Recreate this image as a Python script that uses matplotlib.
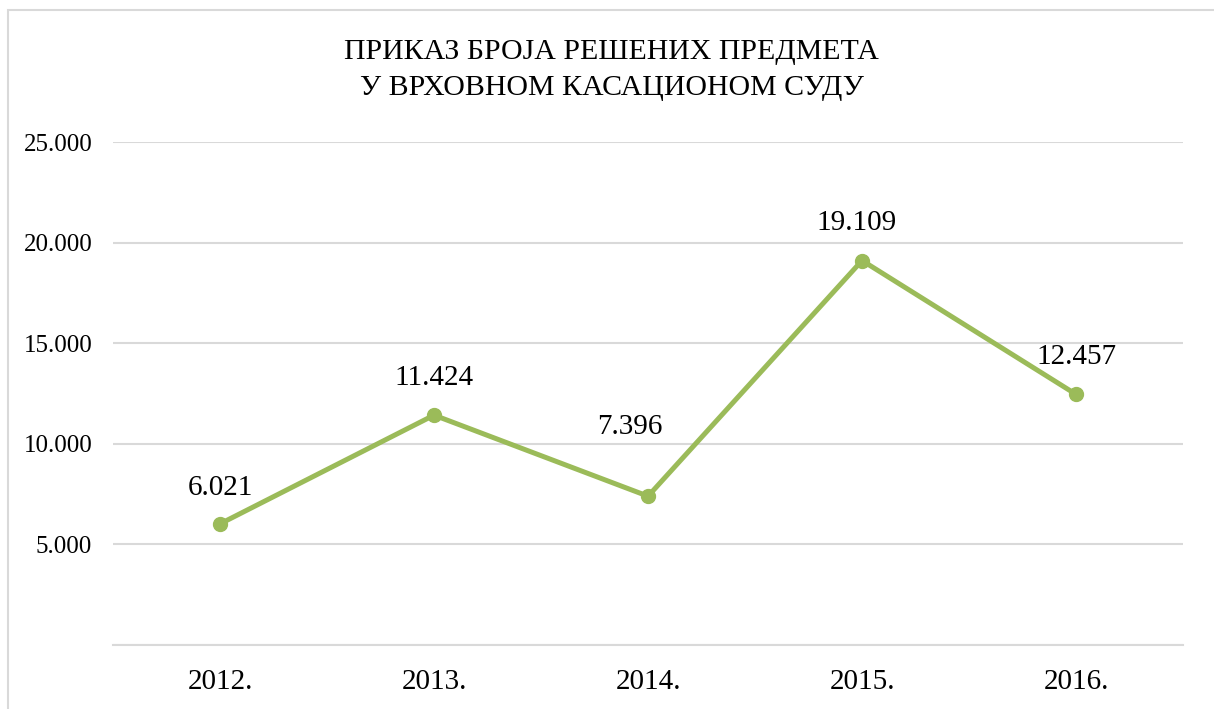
import matplotlib.pyplot as plt
from matplotlib.patches import Rectangle

# Data
years = ['2012.', '2013.', '2014.', '2015.', '2016.']
solved = [6021, 11424, 7396, 19109, 12457]
labels = ['6.021', '11.424', '7.396', '19.109', '12.457']
# label offsets in points (dx, dy) above each point
label_offsets = [(0, 26), (0, 27), (-13, 50), (-4, 27), (0, 27)]

yticks = [0, 5000, 10000, 15000, 20000, 25000]
ytick_labels = ['', '5.000', '10.000', '15.000', '20.000', '25.000']

plt.rcParams['font.family'] = ['Liberation Serif', 'DejaVu Serif']

fig = plt.figure(figsize=(12.14, 7.09), dpi=100)
ax = fig.add_axes([0.0931, 0.0903, 0.8814, 0.7094])

# outer chart border (cropped at right/bottom)
fig.patches.append(Rectangle((8 / 1214, -0.05), 1.2, 1 - 10 / 709 + 0.05,
                             transform=fig.transFigure, fill=False,
                             edgecolor='#d9d9d9', linewidth=1.5))

x = range(len(years))
ax.plot(x, solved, color='#9bbb59', linewidth=3.6, marker='o',
        markersize=10, solid_capstyle='round', zorder=3)

for i, (v, lab) in enumerate(zip(solved, labels)):
    dx, dy = label_offsets[i]
    ax.annotate(lab, (i, v), xytext=(dx, dy), textcoords='offset points',
                ha='center', va='center', fontsize=21, color='black')

ax.set_xlim(-0.5, len(years) - 0.5)
ax.set_ylim(0, 25000)
ax.set_yticks(yticks)
ax.set_yticklabels(ytick_labels, fontsize=18)
ax.set_xticks(list(x))
ax.set_xticklabels(years, fontsize=21)
ax.tick_params(length=0)
ax.tick_params(axis='y', pad=15)
ax.tick_params(axis='x', pad=17)
ax.grid(axis='y', color='#d9d9d9', linewidth=1.5)
ax.set_axisbelow(True)
for s in ax.spines.values():
    s.set_visible(False)
ax.spines['bottom'].set_visible(True)
ax.spines['bottom'].set_color('#d9d9d9')
ax.spines['bottom'].set_linewidth(1.5)

fig.text(0.504, 0.901, 'ПРИКАЗ БРОЈА РЕШЕНИХ ПРЕДМЕТА\nУ ВРХОВНОМ КАСАЦИОНОМ СУДУ',
         ha='center', va='center', fontsize=21.5, linespacing=1.5)

fig.savefig('out.png', dpi=100)
